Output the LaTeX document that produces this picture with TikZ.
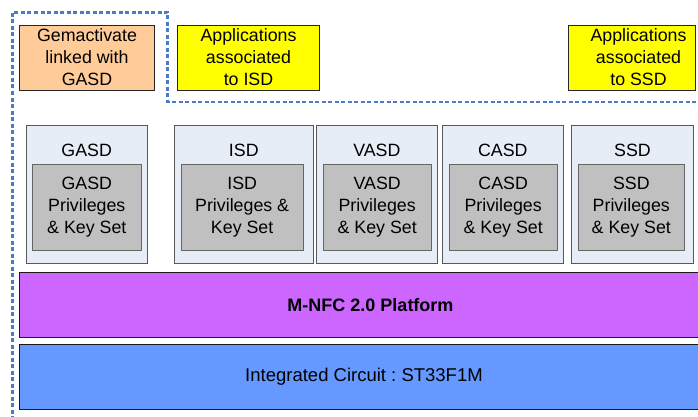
\documentclass[tikz,border=0pt]{standalone}
\usepackage{fontspec}
\setmainfont{Liberation Sans}
\frenchspacing
\definecolor{dashblue}{HTML}{4A7CC4}
\definecolor{peach}{HTML}{FFCC99}
\definecolor{appyellow}{HTML}{FFFF00}
\definecolor{sdfill}{HTML}{E6EDF7}
\definecolor{keyfill}{HTML}{C0C0C0}
\definecolor{platpurple}{HTML}{CC66FF}
\definecolor{icblue}{HTML}{6699FF}
\begin{document}
\begin{tikzpicture}[x=1pt,y=-1pt,
  txt/.style={font=\fontsize{17.8}{22}\selectfont, align=center, inner sep=0pt},
  appbox/.style={draw=black!85, line width=0.9pt},
  sdbox/.style={draw=black!65, fill=sdfill, line width=0.9pt},
  keybox/.style={draw=black!60, fill=keyfill, line width=0.9pt},
  layerbox/.style={draw=black!90, line width=1pt}]
\clip (0,0) rectangle (698,417);
\fill[white] (0,0) rectangle (698,417);

% dashed boundary
\coordinate (d1) at (12.5,420);
\coordinate (d2) at (12.5,12.5);
\coordinate (d3) at (167.5,12.5);
\coordinate (d4) at (167.5,102);
\coordinate (d5) at (700,102);
\draw[dashblue, line width=2.3pt, dash pattern=on 4pt off 2.5pt] (d1) -- (d2) -- (d3) -- (d4) -- (d5);

% top row application boxes
\draw[appbox, fill=peach] (19.5,25) rectangle (154,90);
\node[txt] (gem) at (87,57.5) {Gemactivate\\linked with\\GASD};
\draw[appbox, fill=appyellow] (177.5,25) rectangle (319,90);
\node[txt] (appisd) at (248.5,57.5) {Applications\\associated\\to ISD};
\draw[appbox, fill=appyellow] (568.5,25) rectangle (695,90);
\node[txt] (appssd) at (638.5,57.5) {Applications\\associated\\to SSD};

% security domains
\foreach \name/\ox/\oX/\ix/\iX/\ttl/\body in {
  gasd/26/147.3/32.3/141.3/GASD/{GASD\\Privileges\\\& Key Set},
  isd/174.3/313.3/181/303.3/ISD/{ISD\\Privileges \&\\Key Set},
  vasd/316/437.7/323.3/431/VASD/{VASD\\Privileges\\\& Key Set},
  casd/442.3/563.3/449/557.3/CASD/{CASD\\Privileges\\\& Key Set},
  ssd/571.7/693.3/578.3/684.3/SSD/{SSD\\Privileges\\\& Key Set}} {
  \draw[sdbox] (\ox,125) rectangle (\oX,263.5);
  \draw[keybox] (\ix,164) rectangle (\iX,250);
  \node[txt] (\name-title) at ({(\ox+\oX)/2},150.5) {\ttl};
  \node[txt] (\name-keys) at ({(\ix+\iX)/2},207.5) {\body};
}

% platform layers
\draw[layerbox, fill=platpurple] (19.5,272.5) rectangle (730,337.5);
\node[txt, font=\fontsize{18}{22}\selectfont\bfseries] (plat) at (370.5,305) {M-NFC 2.0 Platform};
\draw[layerbox, fill=icblue] (19.5,344.5) rectangle (730,409);
\node[txt, font=\fontsize{18.5}{22}\selectfont] (ic) at (364,377) {Integrated Circuit : ST33F1M};
\end{tikzpicture}
\end{document}
